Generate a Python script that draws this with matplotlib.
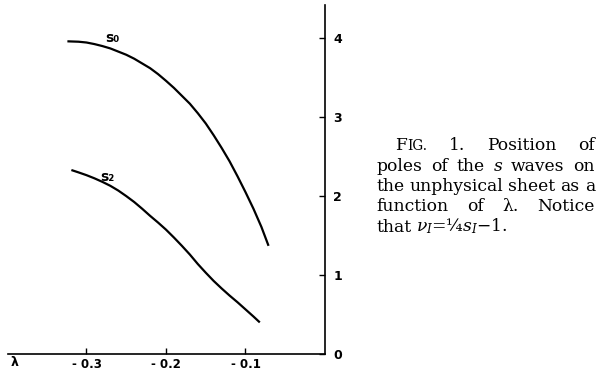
import matplotlib
matplotlib.use("Agg")
import matplotlib.pyplot as plt

# pole positions read along the two trajectories
lam_s0 = [-0.324, -0.31, -0.30, -0.29, -0.28, -0.27, -0.26, -0.25, -0.24,
          -0.23, -0.22, -0.21, -0.20, -0.19, -0.18, -0.17, -0.16, -0.15,
          -0.14, -0.13, -0.12, -0.11, -0.10, -0.09, -0.08, -0.071]
s0 = [3.96, 3.955, 3.945, 3.925, 3.90, 3.87, 3.83, 3.79, 3.74,
      3.68, 3.62, 3.545, 3.46, 3.37, 3.27, 3.17, 3.05, 2.92,
      2.77, 2.61, 2.44, 2.25, 2.05, 1.84, 1.61, 1.37]

lam_s2 = [-0.319, -0.31, -0.30, -0.29, -0.28, -0.27, -0.26, -0.25, -0.24,
          -0.23, -0.22, -0.21, -0.20, -0.19, -0.18, -0.17, -0.16, -0.15,
          -0.14, -0.13, -0.12, -0.11, -0.10, -0.09, -0.082]
s2 = [2.33, 2.30, 2.265, 2.225, 2.18, 2.13, 2.07, 2.00, 1.925,
      1.84, 1.75, 1.665, 1.575, 1.475, 1.37, 1.26, 1.14, 1.03,
      0.925, 0.83, 0.74, 0.655, 0.565, 0.475, 0.40]

x_ticks = [-0.3, -0.2, -0.1]
x_tick_labels = ["- 0.3", "- 0.2", "- 0.1"]
y_ticks = [0, 1, 2, 3, 4]
y_tick_labels = ["0", "1", "2", "3", "4"]

W, H = 597, 373
plt.rcParams['mathtext.fontset'] = 'dejavuserif'
fig = plt.figure(figsize=(W / 100, H / 100), dpi=100)


def px(x, y):
    return x / W, 1 - y / H


ax = fig.add_axes([8 / W, 1 - 354 / H, 317 / W, 349 / H])
ax.set_xlim(-0.3987, 0)
ax.set_ylim(0, 4.42)

ax.plot(lam_s0, s0, color='black', lw=1.6, solid_capstyle='butt')
ax.plot(lam_s2, s2, color='black', lw=1.6, solid_capstyle='butt')

ax.text(-0.268, 4.0, "s₀", fontsize=10, fontweight='bold', ha='center', va='center')
ax.text(-0.274, 2.24, "s₂", fontsize=10, fontweight='bold', ha='center', va='center')

for side in ['top', 'left']:
    ax.spines[side].set_visible(False)
ax.spines['bottom'].set_linewidth(1.2)
ax.spines['right'].set_linewidth(1.2)
ax.yaxis.tick_right()
ax.set_xticks(x_ticks)
ax.set_xticklabels(x_tick_labels, fontweight='bold')
ax.set_yticks(y_ticks)
ax.set_yticklabels(y_tick_labels, fontweight='bold')
ax.tick_params(axis='x', direction='in', length=4, width=1, pad=3, labelsize=8.5)
ax.tick_params(axis='y', direction='in', length=4, width=1, pad=6, labelsize=9)

fig.text(*px(15, 362), "λ", fontsize=9, fontweight='bold', ha='center', va='center')

# caption, justified between left and right edges
renderer = fig.canvas.get_renderer()
serif = dict(family='DejaVu Serif', fontsize=12.3)
small = dict(family='DejaVu Serif', fontsize=9.8)
ital = dict(family='DejaVu Serif', fontsize=12.3, style='italic')

caption = [
    (395, True, [[("F", serif), ("IG.", small)], [("1.", serif)],
                 [("Position", serif)], [("of", serif)]]),
    (376, True, [[("poles", serif)], [("of", serif)], [("the", serif)],
                 [("s", ital)], [("waves", serif)], [("on", serif)]]),
    (376, True, [[("the", serif)], [("unphysical", serif)], [("sheet", serif)],
                 [("as", serif)], [("a", serif)]]),
    (376, True, [[("function", serif)], [("of", serif)], [("λ.", serif)],
                 [("Notice", serif)]]),
    (376, False, [[("that", serif)],
                  [(r"$\nu_I$=¼$s_I$−1.", serif)]]),
]
right = 595
baselines = [150.5, 171, 191, 211, 231.5]

for (left, justify, words), base in zip(caption, baselines):
    items = []
    total = 0
    for word in words:
        pieces = []
        ww = 0
        for txt, kw in word:
            t = fig.text(0, 0, txt, ha='left', va='baseline', **kw)
            w = t.get_window_extent(renderer).width
            pieces.append((t, w))
            ww += w
        items.append(pieces)
        total += ww
    gap = (right - left - total) / (len(items) - 1) if justify else 5
    x = left
    for pieces in items:
        for t, w in pieces:
            t.set_position(px(x, base))
            x += w
        x += gap

fig.savefig("out.png", dpi=100)
